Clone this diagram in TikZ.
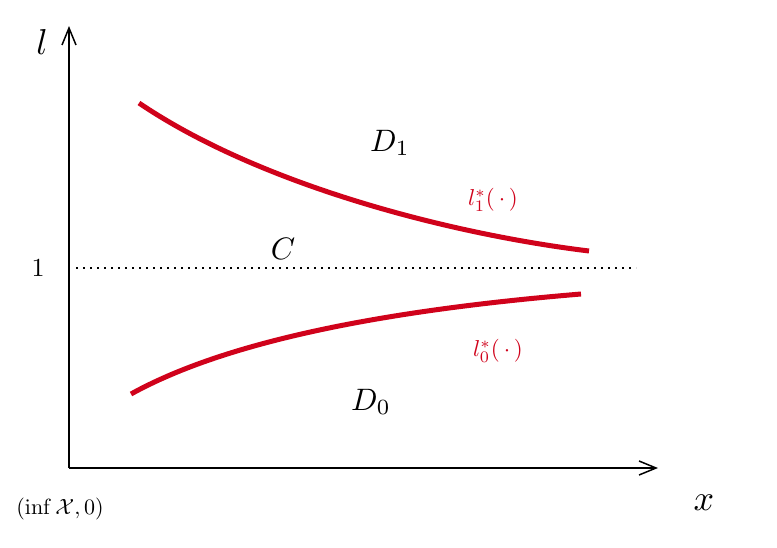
\documentclass[tikz,border=0pt]{standalone}
\usetikzlibrary{arrows.meta}
\definecolor{cred}{HTML}{D0021B}
\begin{document}
\begin{tikzpicture}[x=1pt,y=-1pt,
  axis/.style={line width=1.5pt,-{Straight Barb[length=17pt,width=14pt,line width=1.5pt]}},
  curve/.style={line width=5pt,cred},
  big/.style={scale=3.1},
  axlab/.style={scale=3.6},
  lab/.style={scale=2.3,text=cred}]
\useasboundingbox (0,0) rectangle (777,547);
\coordinate (o) at (69,468);
\coordinate (ytop) at (69,26);
\coordinate (xend) at (658,468);
\draw[axis] (o) -- (ytop);
\draw[axis] (o) -- (xend);
\coordinate (d1) at (76,268);
\coordinate (d2) at (636,268);
\draw[line width=1.6pt,dash pattern=on 1.6pt off 5.4pt] (d1) -- (d2);
\coordinate (u1) at (139,103);
\coordinate (u2) at (589,251);
\draw[curve] (u1) .. controls (260,185) and (450,234) .. (u2);
\coordinate (w1) at (131,394);
\coordinate (w2) at (581,294);
\draw[curve] (w1) .. controls (232,338) and (400,309) .. (w2);
\node[big] (nD1) at (390,143) {$D_1$};
\node[big] (nC) at (283,249) {$C$};
\node[big] (nD0) at (371,402) {$D_0$};
\node[lab] (l1) at (493,200) {$l_1^*(\,\cdot\,)$};
\node[lab] (l0) at (498,351) {$l_0^*(\,\cdot\,)$};
\node[axlab] (nx) at (704,503) {$x$};
\node[axlab] (nl) at (42,42) {$l$};
\node[scale=2.6] (n1) at (38,268) {1};
\node[scale=2.2] (org) at (60,509) {$(\inf\mathcal{X},0)$};
\end{tikzpicture}
\end{document}
